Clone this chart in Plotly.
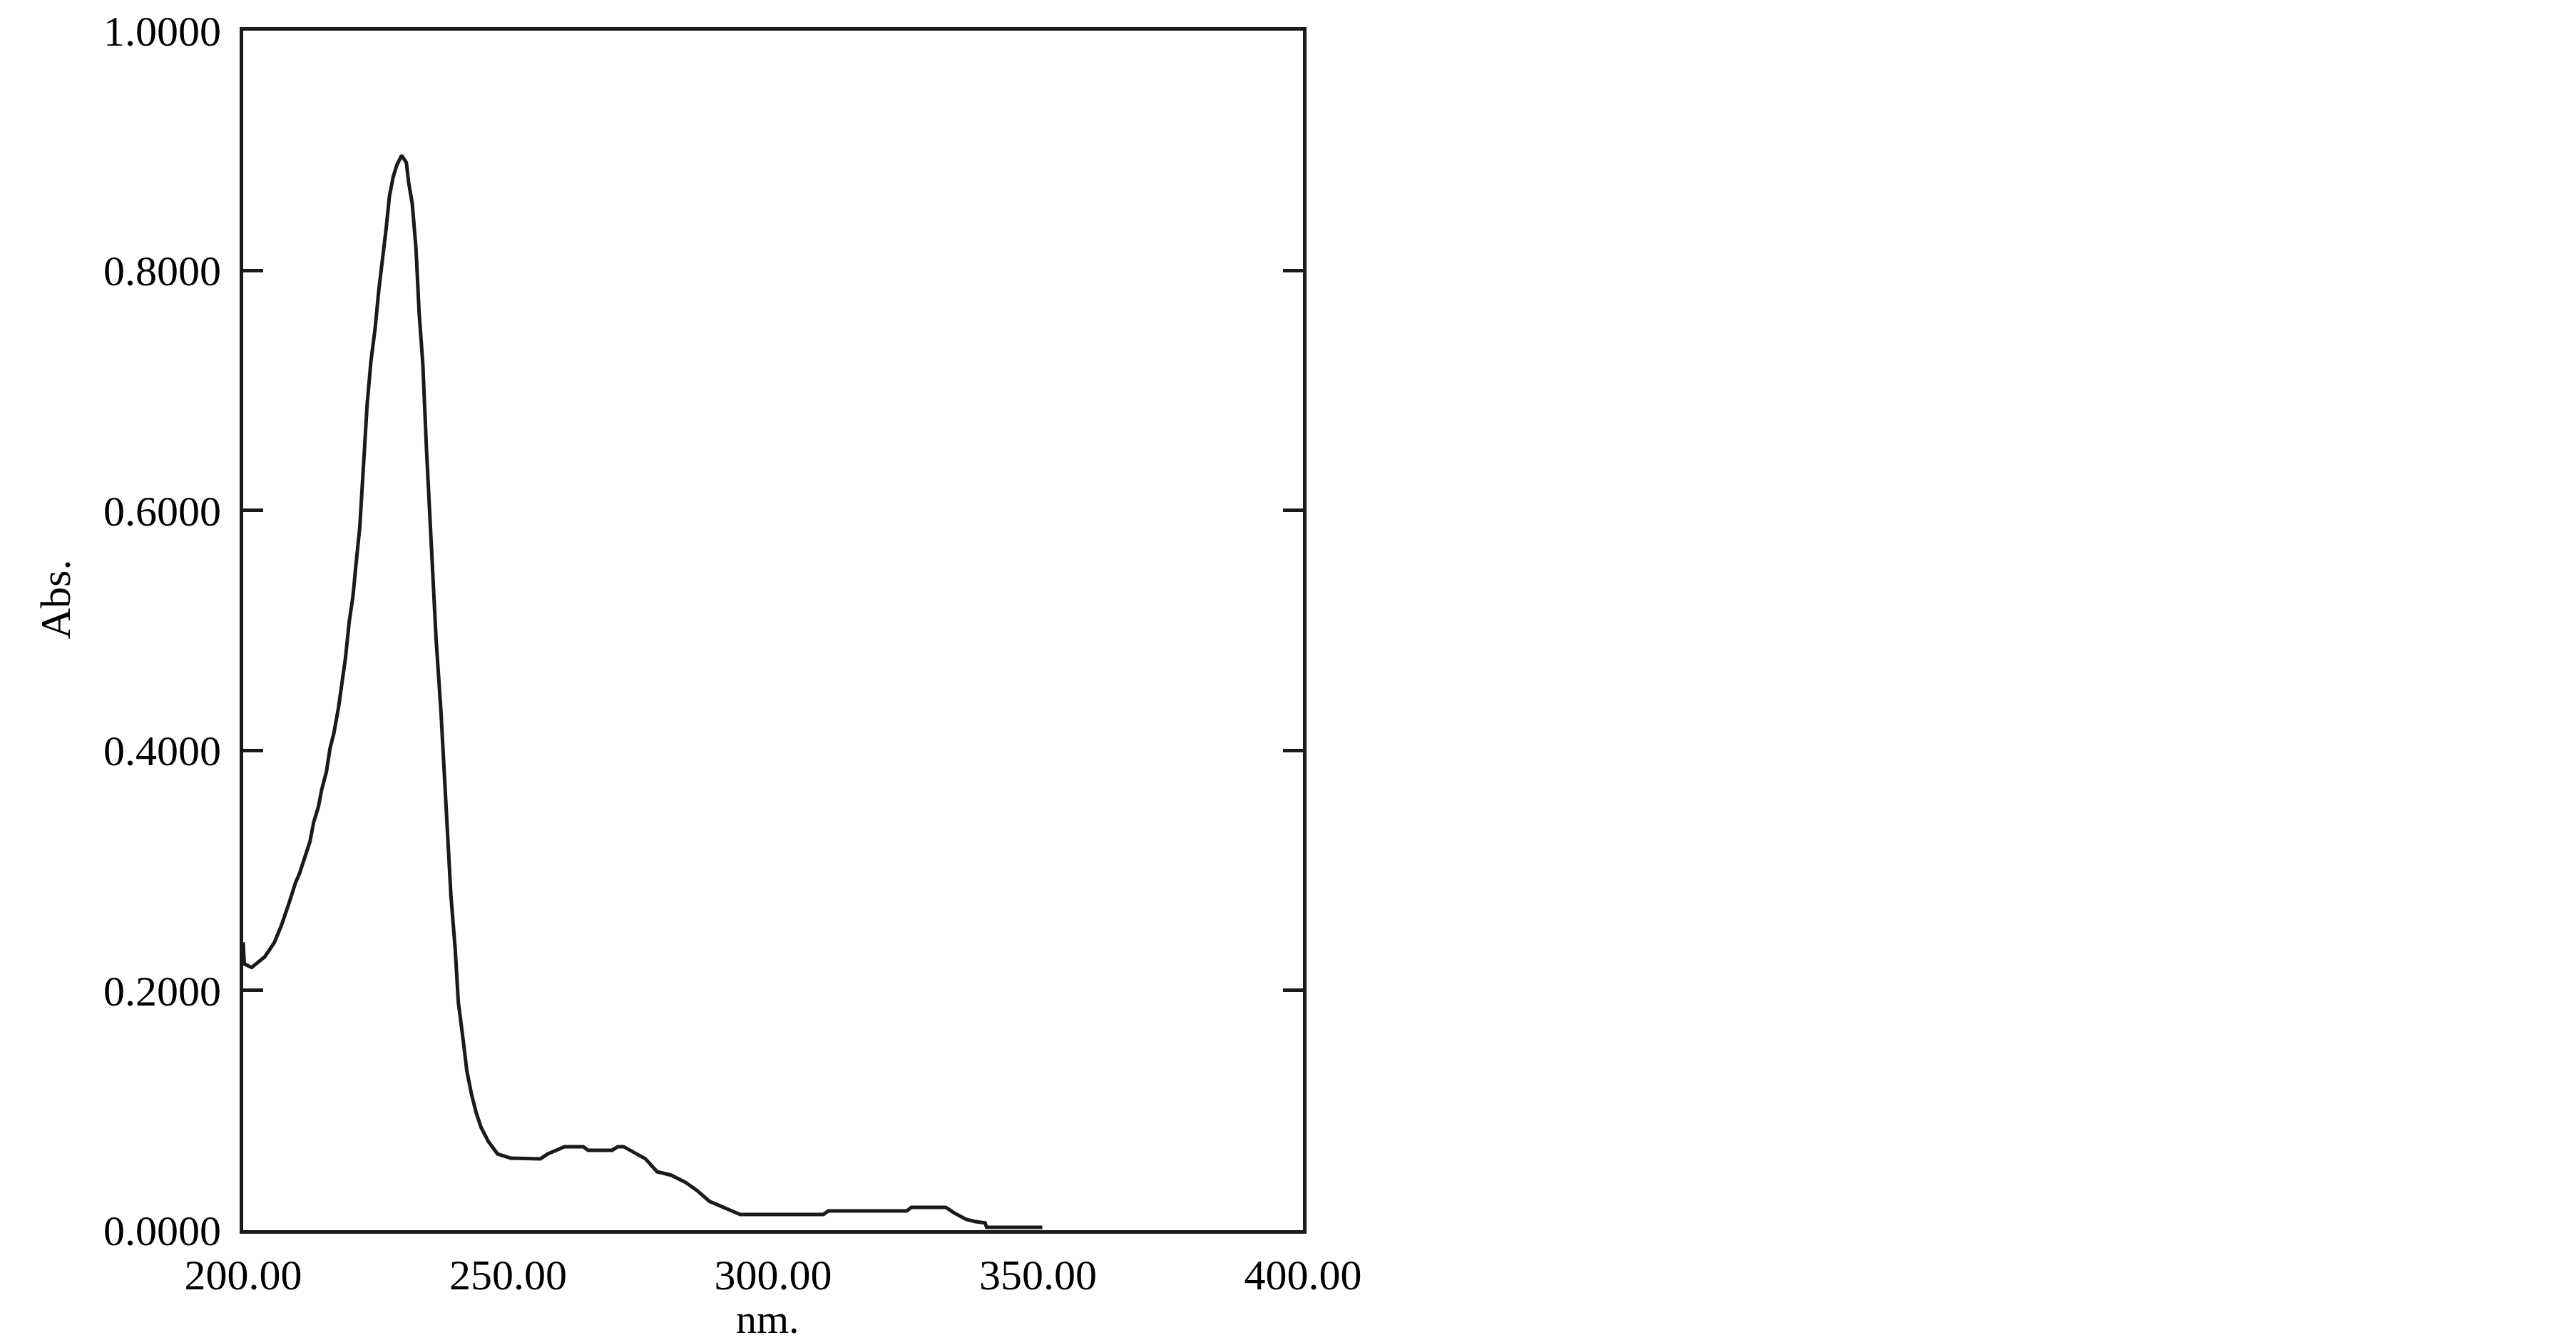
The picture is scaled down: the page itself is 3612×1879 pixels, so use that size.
import plotly.graph_objects as go

wavelength_nm = [
    200.0, 200.2, 201.6, 204.1, 205.9, 207.2, 208.6, 209.9, 210.6, 211.7,
    212.6, 213.3, 214.2, 214.8, 215.7, 216.4, 217.1, 218.0, 218.7, 219.3,
    220.0, 220.7, 221.4, 222.0, 222.6, 223.0, 223.4, 224.1, 224.9, 225.6,
    226.3, 227.0, 227.6, 228.3, 229.0, 229.9, 230.8, 231.2, 231.9, 232.6,
    233.2, 233.9, 234.6, 235.2, 235.7, 236.4, 237.3, 238.0, 238.6, 239.2,
    240.0, 240.6, 241.5, 242.2, 243.1, 244.0, 244.9, 246.3, 248.0, 250.5,
    256.1, 257.5, 259.7, 260.6, 264.2, 265.1, 269.6, 270.7, 271.8, 273.6,
    275.9, 278.1, 280.8, 283.5, 285.7, 288.0, 290.7, 293.8, 309.5, 310.4,
    325.2, 326.1, 332.6, 334.2, 336.4, 338.2, 340.0, 340.3, 350.8,
]
absorbance = [
    0.240, 0.222, 0.219, 0.228, 0.240, 0.254, 0.272, 0.290, 0.297, 0.311,
    0.324, 0.340, 0.353, 0.367, 0.382, 0.402, 0.414, 0.436, 0.458, 0.477,
    0.507, 0.528, 0.560, 0.586, 0.630, 0.663, 0.689, 0.724, 0.752, 0.784,
    0.809, 0.836, 0.862, 0.878, 0.888, 0.896, 0.890, 0.874, 0.856, 0.819,
    0.765, 0.722, 0.650, 0.600, 0.555, 0.493, 0.434, 0.372, 0.322, 0.279,
    0.235, 0.190, 0.159, 0.133, 0.113, 0.0975, 0.0856, 0.0737, 0.0636, 0.0600,
    0.0595, 0.0636, 0.0678, 0.0696, 0.0696, 0.0666, 0.0666, 0.0696, 0.0696, 0.0654,
    0.0595, 0.0488, 0.0458, 0.0398, 0.0329, 0.0240, 0.0190, 0.0131, 0.0131, 0.0160,
    0.0160, 0.0190, 0.0190, 0.0143, 0.0091, 0.0071, 0.0061, 0.0024, 0.0024,
]

x_tick_vals = [200, 250, 300, 350, 400]
x_tick_text = ["200.00", "250.00", "300.00", "350.00", "400.00"]
y_tick_vals = [0.0, 0.2, 0.4, 0.6, 0.8, 1.0]
y_tick_text = ["0.0000", "0.2000", "0.4000", "0.6000", "0.8000", "1.0000"]

FONT = "Liberation Serif, Times New Roman, serif"
INK = "#1a1a1a"

fig = go.Figure()
fig.add_trace(go.Scatter(
    x=wavelength_nm, y=absorbance, mode="lines",
    line=dict(color=INK, width=5), showlegend=False, hoverinfo="skip",
))

fig.update_layout(
    width=3612, height=1879,
    paper_bgcolor="white", plot_bgcolor="white",
    margin=dict(l=333, r=1793, t=35, b=162),
    font=dict(family=FONT, size=60, color="black"),
    xaxis=dict(
        range=[200, 400], tickvals=x_tick_vals, ticktext=x_tick_text,
        ticks="", showgrid=False, zeroline=False, automargin=False,
        showline=True, linecolor=INK, linewidth=5, mirror=True,
        ticklabelstandoff=6,
    ),
    yaxis=dict(
        range=[0, 1], tickvals=y_tick_vals, ticktext=y_tick_text,
        ticks="inside", ticklen=28, tickwidth=5, tickcolor=INK,
        showgrid=False, zeroline=False, automargin=False,
        showline=True, linecolor=INK, linewidth=5, mirror="ticks",
        ticklabelstandoff=14,
    ),
    annotations=[
        dict(
            text="Abs.", xref="paper", yref="paper", x=-0.177, y=0.526,
            xanchor="center", yanchor="middle", textangle=-90, showarrow=False,
            font=dict(family=FONT, size=60, color="black"),
        ),
        dict(
            text="nm.", xref="paper", yref="paper", x=0.495, y=-0.074,
            xanchor="center", yanchor="middle", showarrow=False,
            font=dict(family=FONT, size=58, color="black"),
        ),
    ],
)

fig.write_html("out.html")
